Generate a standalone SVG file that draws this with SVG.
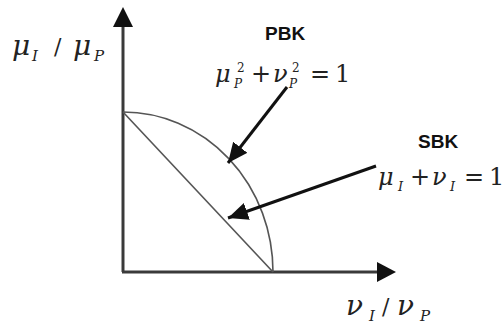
<svg xmlns="http://www.w3.org/2000/svg" width="504" height="329" viewBox="0 0 504 329">
<style>
.axis{stroke:#3a3a3a;stroke-width:3;fill:none}
.curve{stroke:#555;stroke-width:1.6;fill:none}
.conn{stroke:#111;stroke-width:3;fill:none}
.math{font-family:"DejaVu Serif","Liberation Serif",serif;font-style:italic;fill:#222}
.op{font-family:"DejaVu Serif","Liberation Serif",serif;font-style:normal;fill:#222}
.lbl{font-family:"Liberation Sans",Arial,sans-serif;font-weight:bold;font-size:19px;fill:#111}
</style>
<defs>
<marker id="ah" markerUnits="userSpaceOnUse" markerWidth="24" markerHeight="20" refX="20" refY="9" orient="auto">
<path d="M0,0 L20,9 L0,18 z" fill="#111"/>
</marker>
</defs>
<rect width="504" height="329" fill="#fff"/>
<g id="axes">
<line class="axis" x1="123" y1="272" x2="123" y2="24"/>
<polygon points="123,7 113,27 133,27" fill="#111"/>
<line class="axis" x1="122" y1="272" x2="380" y2="272"/>
<polygon points="396,272 377,262 377,282" fill="#111"/>
</g>
<g id="PBK-curve">
<path class="curve" d="M123,112 A150,160 0 0 1 273,272"/>
</g>
<g id="SBK-line">
<line class="curve" x1="123" y1="112" x2="273" y2="272"/>
</g>
<g id="connectors">
<line class="conn" x1="287" y1="87" x2="228" y2="163" marker-end="url(#ah)"/>
<line class="conn" x1="376" y1="166" x2="228" y2="218" marker-end="url(#ah)"/>
</g>
<g id="y-label">
<text class="math" x="12" y="55" font-size="28">μ</text>
<text class="math" x="32" y="61" font-size="15">I</text>
<text class="op" x="54" y="54" font-size="22">/</text>
<text class="math" x="73" y="55" font-size="28">μ</text>
<text class="math" x="94" y="61" font-size="15">P</text>
</g>
<g id="x-label">
<text class="math" x="346" y="315" font-size="28">ν</text>
<text class="math" x="369" y="321" font-size="15">I</text>
<text class="op" x="382" y="314" font-size="22">/</text>
<text class="math" x="397" y="315" font-size="28">ν</text>
<text class="math" x="420" y="321" font-size="15">P</text>
</g>
<g id="PBK">
<text class="lbl" x="265" y="40">PBK</text>
<text class="math" x="215" y="82" font-size="24">μ</text>
<text class="math" x="234" y="88" font-size="12">P</text>
<text class="op" x="237" y="72" font-size="12">2</text>
<text class="op" x="251" y="82" font-size="24">+</text>
<text class="math" x="273" y="82" font-size="24">ν</text>
<text class="math" x="289" y="88" font-size="12">P</text>
<text class="op" x="292" y="72" font-size="12">2</text>
<text class="op" x="310" y="82" font-size="24">=</text>
<text class="op" x="335" y="82" font-size="24">1</text>
</g>
<g id="SBK">
<text class="lbl" x="418" y="148">SBK</text>
<text class="math" x="378" y="185" font-size="24">μ</text>
<text class="math" x="398" y="191" font-size="13">I</text>
<text class="op" x="410" y="185" font-size="24">+</text>
<text class="math" x="432" y="185" font-size="24">ν</text>
<text class="math" x="450" y="191" font-size="13">I</text>
<text class="op" x="464" y="185" font-size="24">=</text>
<text class="op" x="489" y="185" font-size="24">1</text>
</g>
</svg>
